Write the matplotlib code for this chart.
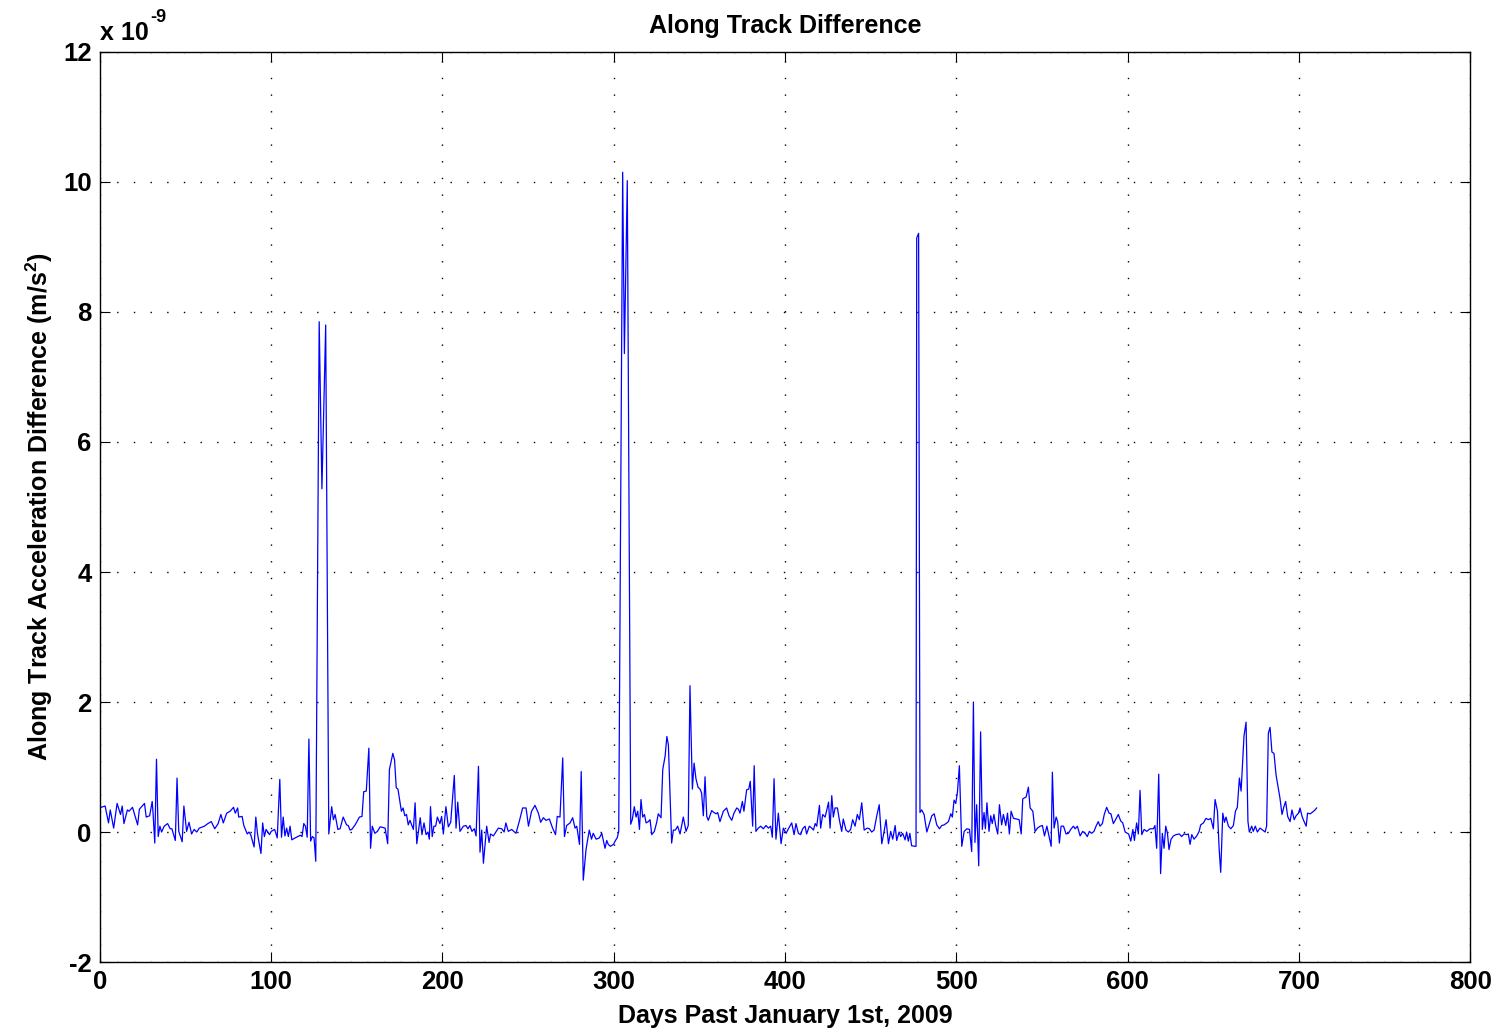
import numpy as np
import matplotlib
matplotlib.use("Agg")
import matplotlib.pyplot as plt

# Along-track acceleration difference, in units of 1e-9 m/s^2
days = [
    0.6, 3, 5, 6, 8, 10, 12, 13, 14, 16, 17, 19, 22, 23, 26, 27, 29, 30.5, 31, 32,
    33, 34, 35, 36, 37.5, 39.5, 41, 42, 44, 45, 46, 48, 49, 50.6, 52, 53.5, 55, 56.5, 58, 61,
    63, 65, 67, 69, 70.6, 72, 74, 76, 78, 79, 80.4, 81, 83, 84, 86, 87, 88, 90, 91, 92,
    94, 95, 96, 97, 99, 100, 102, 103.5, 105, 106, 107, 108, 109, 110, 111, 112, 114, 117, 118, 119,
    120, 121, 122, 123, 124, 125, 126, 128, 129.6, 131.8, 133.6, 135.3, 136.3, 137.3, 138.9, 140.2, 142, 144, 145, 146,
    147, 149, 151.5, 153, 154, 155.5, 157, 158, 159, 160.5, 162, 163.6, 166.5, 168, 169, 171, 172, 173, 174, 176,
    177, 178, 179, 180, 181, 183, 184, 185, 187, 188, 189.2, 190.4, 191.5, 192.3, 193, 194, 195, 196, 197, 198.5,
    199.5, 200.5, 202, 203.4, 204.8, 206.9, 207.9, 208.9, 210.2, 212.2, 213.7, 214.9, 216, 217.2, 218.6, 219.6, 221, 221.9, 222.9, 223.9,
    225.8, 227.2, 228.1, 229.7, 232.6, 234.6, 236, 237, 238.4, 240.4, 242.9, 244.8, 246.8, 248.8, 250.2, 252, 254, 256, 257.3, 258.9,
    260.4, 262.4, 264.3, 266, 267, 268.6, 270.2, 271.2, 272.5, 274.5, 276, 277.4, 278.4, 280, 281, 282.2, 283.8, 285.7, 287, 288,
    289.7, 291.6, 293, 294.9, 295.9, 296.8, 298, 299.8, 301, 302, 302.9, 305.2, 306.2, 307.9, 309.9, 310.8, 312, 313, 314, 315,
    315.9, 316.9, 317.9, 318.9, 320.2, 321.2, 322.2, 323.7, 325, 326, 327.6, 328.6, 330, 331, 331.9, 333.8, 334.8, 336, 337.3, 338.7,
    340.6, 342.2, 343.5, 344.5, 345.9, 346.9, 348, 349.2, 350.4, 351.3, 352.3, 353.3, 354.3, 355.2, 357.2, 358.5, 359.7, 360.7, 362, 364,
    365.9, 367.3, 368.9, 370.2, 371.8, 372.8, 373.7, 375.1, 376, 377.6, 378.8, 379.7, 381.1, 382, 383, 384.4, 385.8, 387.3, 388.9, 390.3,
    391.6, 392.6, 393.6, 394.7, 396.1, 397.7, 399, 400.6, 402, 403.9, 405.3, 406.4, 407.8, 409.1, 410.3, 411.7, 412.6, 414.2, 415.6, 416.6,
    417.6, 418.5, 420.1, 420.8, 422, 423.4, 424.4, 425.4, 426.3, 427.3, 428.2, 429.2, 430.6, 431.7, 433.1, 434, 435.6, 437, 438.3, 439.5,
    440.9, 442.2, 443.4, 444.8, 446.2, 448.1, 449.3, 450.6, 452, 453.5, 455, 456.5, 457.8, 459, 460.4, 461.7, 462.9, 464.3, 465.2, 466.6,
    467.5, 468.7, 470.1, 471, 472, 472.9, 473.9, 475.9, 476.5, 476.9, 478, 478.8, 479.8, 481.2, 482.8, 484.3, 485.7, 487.1, 488.6, 490.2,
    491.5, 492.9, 494.5, 495.4, 496.8, 497.7, 498.7, 499.7, 500.7, 501.8, 503.2, 504.6, 506.2, 507.7, 509, 510, 510.9, 511.9, 513.1, 514.2,
    515.2, 516.2, 517, 517.9, 519.1, 520.1, 521, 522, 523, 524.2, 525.2, 526.5, 527.5, 528.9, 529.9, 531, 532, 533.4, 535.3, 536.7,
    537.9, 538.8, 540.8, 542.1, 543.1, 544.7, 546, 547.4, 549, 550.3, 551.5, 552.9, 554.2, 555.4, 556.1, 557.1, 558.3, 559.2, 560.2, 561.2,
    562.6, 564.1, 565.5, 566.8, 568.4, 569.4, 570.7, 572.3, 573.8, 575.2, 576.5, 577.7, 579, 580.4, 581.6, 582.9, 583.9, 585.3, 586.4, 587.8,
    589.2, 590.3, 591.7, 593, 594.6, 596, 597.2, 598.6, 600.6, 601.9, 603.1, 604, 605.3, 606.3, 607.3, 608.3, 609.7, 611.2, 613.1, 615.1,
    616, 617, 618.2, 619.3, 620.3, 621.3, 622.3, 623.3, 624.2, 625.4, 626.8, 628.3, 630.3, 631.6, 633, 634.5, 635.5, 636.5, 637.5, 638.8,
    640.4, 641.8, 642.7, 644.3, 645.8, 647.2, 648.6, 650.1, 651.1, 652.5, 653.5, 654.4, 655.6, 656.6, 657.5, 658.9, 660.3, 661.8, 663, 664.1,
    665.3, 666.3, 668, 669.2, 670.3, 671.1, 672.5, 673.4, 674.6, 675.8, 677.3, 678.9, 680.3, 681.2, 682.2, 683.2, 684.3, 685.5, 686.7, 688,
    689, 690.2, 691.3, 692.3, 693.5, 694.9, 696, 697.3, 698.4, 699.8, 700.7, 701.9, 703.1, 704.3, 705.1, 706.6, 708.2, 709.5, 710.4,
]

accel_e9 = [
    0.38, 0.40, 0.14, 0.34, 0.06, 0.44, 0.27, 0.40, 0.13, 0.34, 0.32, 0.38, 0.11, 0.35, 0.44, 0.23, 0.25, 0.47, 0.29, -0.17,
    1.12, -0.07, 0.09, 0.00, 0.09, 0.13, 0.05, 0.05, -0.13, 0.83, 0.01, -0.15, 0.40, 0.01, 0.15, -0.03, 0.04, 0.00, 0.06, 0.09,
    0.13, 0.16, 0.05, 0.13, 0.27, 0.14, 0.29, 0.32, 0.38, 0.29, 0.37, 0.23, 0.24, 0.10, -0.03, 0.00, -0.04, -0.23, 0.23, -0.03,
    -0.33, 0.14, -0.07, 0.04, -0.04, 0.01, 0.04, -0.09, 0.81, -0.08, 0.23, -0.06, 0.06, -0.07, 0.09, -0.12, -0.09, -0.05, -0.07, 0.13,
    0.09, -0.08, 1.43, -0.14, -0.07, -0.09, -0.45, 7.85, 5.28, 7.80, -0.03, 0.39, 0.19, 0.27, 0.04, 0.05, 0.23, 0.11, 0.10, 0.03,
    0.04, 0.11, 0.23, 0.24, 0.62, 0.63, 1.29, -0.25, 0.09, -0.02, 0.01, 0.08, 0.06, -0.18, 0.96, 1.21, 1.11, 0.68, 0.66, 0.32,
    0.37, 0.25, 0.27, 0.11, 0.18, 0.04, 0.45, -0.18, 0.22, -0.04, 0.14, -0.04, 0.00, -0.11, 0.39, -0.07, 0.09, 0.09, 0.23, 0.13,
    0.24, -0.03, 0.39, 0.08, 0.15, 0.87, 0.06, 0.46, 0.01, 0.09, 0.10, 0.05, 0.10, 0.01, 0.05, -0.06, 1.01, -0.31, 0.03, -0.48,
    0.09, -0.16, -0.03, -0.06, 0.06, 0.05, 0.00, 0.14, 0.01, 0.04, -0.02, 0.16, 0.37, 0.37, 0.09, 0.32, 0.41, 0.29, 0.15, 0.22,
    0.18, 0.20, 0.06, -0.04, 0.24, 0.23, 1.14, -0.07, 0.10, 0.14, 0.22, 0.06, 0.09, -0.19, 0.93, -0.74, -0.27, 0.03, -0.11, -0.02,
    -0.11, -0.09, -0.02, -0.25, -0.13, -0.19, -0.22, -0.19, -0.13, -0.09, 0.01, 10.15, 7.36, 10.02, 0.12, 0.19, 0.39, 0.23, 0.32, 0.04,
    0.50, 0.23, 0.27, 0.14, 0.16, 0.19, -0.04, 0.01, 0.14, 0.28, 0.22, 0.96, 1.17, 1.47, 1.34, -0.17, 0.03, 0.03, 0.09, -0.03,
    0.23, 0.01, 0.10, 2.25, 0.66, 1.06, 0.82, 0.69, 0.66, 0.60, 0.25, 0.85, 0.24, 0.18, 0.33, 0.30, 0.28, 0.30, 0.16, 0.32,
    0.37, 0.25, 0.18, 0.29, 0.37, 0.35, 0.29, 0.47, 0.32, 0.65, 0.66, 0.78, 0.09, 1.02, 0.01, 0.06, 0.09, 0.05, 0.10, 0.06,
    0.09, -0.08, 0.82, -0.11, 0.29, -0.18, 0.06, -0.02, 0.05, 0.14, -0.04, 0.13, -0.02, -0.04, 0.05, 0.09, -0.03, 0.09, 0.06, 0.03,
    0.13, 0.09, 0.41, 0.06, 0.27, 0.23, 0.34, 0.46, 0.06, 0.56, 0.23, 0.37, 0.37, 0.19, 0.01, 0.20, 0.03, 0.00, 0.04, 0.19,
    0.09, 0.27, 0.19, 0.45, 0.03, 0.06, 0.05, 0.00, 0.03, 0.24, 0.42, -0.18, 0.00, 0.19, -0.18, 0.01, -0.11, 0.10, -0.13, 0.00,
    -0.07, -0.02, -0.12, 0.00, -0.14, -0.02, -0.21, -0.22, -0.22, 9.14, 9.21, 0.30, 0.34, 0.27, 0.00, 0.13, 0.25, 0.28, 0.11, 0.05,
    0.10, 0.11, 0.14, 0.16, 0.28, 0.23, 0.49, 0.44, 0.62, 1.02, -0.22, 0.01, 0.05, 0.04, -0.30, 2.00, -0.16, 0.42, -0.52, 1.54,
    0.04, 0.30, 0.05, 0.45, 0.01, 0.25, 0.13, 0.27, 0.10, -0.03, 0.42, 0.11, 0.27, 0.10, 0.29, -0.03, 0.32, 0.21, 0.20, 0.19,
    -0.03, 0.51, 0.54, 0.69, 0.37, 0.32, 0.01, 0.06, 0.09, 0.10, -0.06, 0.09, -0.07, -0.22, 0.92, 0.06, 0.23, 0.16, -0.17, 0.09,
    0.09, -0.03, -0.02, 0.04, 0.09, 0.05, 0.09, -0.06, 0.01, -0.02, -0.07, 0.01, -0.02, 0.01, 0.09, 0.16, 0.09, 0.13, 0.27, 0.38,
    0.29, 0.28, 0.13, 0.19, 0.27, 0.17, 0.14, 0.00, -0.03, -0.14, 0.04, -0.13, 0.14, -0.03, 0.64, -0.04, 0.04, 0.01, 0.05, 0.05,
    0.10, -0.25, 0.89, -0.64, -0.02, -0.25, 0.09, -0.02, -0.27, -0.11, -0.06, -0.04, -0.03, -0.07, -0.03, -0.04, -0.03, -0.19, -0.04, -0.11,
    -0.06, 0.01, 0.11, 0.14, 0.21, 0.19, 0.21, 0.05, 0.50, 0.32, -0.27, -0.62, 0.29, 0.15, 0.23, 0.09, 0.05, 0.10, 0.32, 0.38,
    0.83, 0.63, 1.48, 1.69, 0.16, 0.00, 0.09, 0.01, 0.09, 0.00, 0.06, 0.03, 0.00, 0.09, 1.52, 1.61, 1.23, 1.21, 0.88, 0.68,
    0.52, 0.27, 0.39, 0.47, 0.24, 0.16, 0.34, 0.19, 0.25, 0.29, 0.37, 0.24, 0.16, 0.09, 0.29, 0.28, 0.31, 0.34, 0.37,
]

x_ticks = [0, 100, 200, 300, 400, 500, 600, 700, 800]
y_ticks = [-2, 0, 2, 4, 6, 8, 10, 12]

plt.rcParams['font.family'] = ['Liberation Sans', 'DejaVu Sans']
plt.rcParams['font.weight'] = 'bold'
plt.rcParams['axes.titleweight'] = 'bold'
plt.rcParams['axes.labelweight'] = 'bold'
plt.rcParams['axes.unicode_minus'] = False
plt.rcParams['mathtext.fontset'] = 'custom'
plt.rcParams['mathtext.rm'] = 'Liberation Sans:bold'
plt.rcParams['mathtext.default'] = 'rm'

fig = plt.figure(figsize=(15.01, 10.33), dpi=100)
ax = fig.add_axes([0.0666, 0.0687, 0.9128, 0.881])

ax.plot(days, accel_e9, color=(0, 0, 1), linewidth=0.9)

ax.set_xlim(0, 800)
ax.set_ylim(-2, 12)
ax.set_xticks(x_ticks)
ax.set_yticks(y_ticks)
ax.tick_params(direction='in', length=7, width=0.8, labelsize=18.5,
               top=True, right=True, pad=6)

ax.grid(True, color='black', linestyle=(0, (1, 11)), linewidth=1.0)
for s in ax.spines.values():
    s.set_linewidth(1.0)

ax.set_title('Along Track Difference', fontsize=18, pad=14)
ax.set_xlabel('Days Past January 1st, 2009', fontsize=18, labelpad=7)
ax.set_ylabel('Along Track Acceleration Difference (m/s$^2$)', fontsize=18, labelpad=6)

# MATLAB-style exponent label above the y axis
ax.text(0.0, 1.008, 'x 10', transform=ax.transAxes, fontsize=18,
        ha='left', va='bottom')
ax.text(0.0365, 1.028, '-9', transform=ax.transAxes, fontsize=13,
        ha='left', va='bottom')

fig.savefig('out.png', dpi=100)
